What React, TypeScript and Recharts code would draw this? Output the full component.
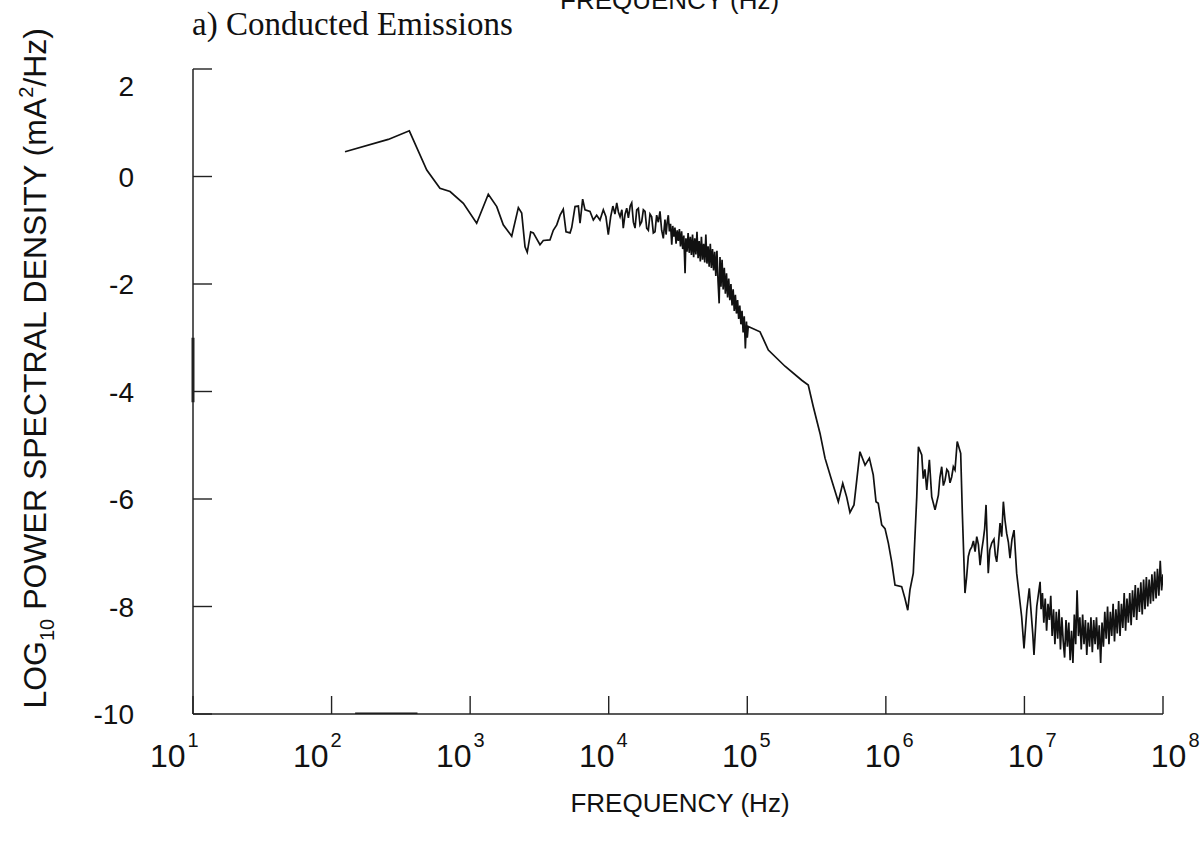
import React from "react";
import { LineChart, Line, XAxis, YAxis, ReferenceLine } from "recharts";

// log10(frequency / Hz) and log10 PSD (mA^2/Hz)
// 10^2 .. 10^4 : smooth low-frequency part
const lfLow = [
  2.097, 2.409, 2.561, 2.687, 2.782, 2.855, 2.951, 3.047, 3.131, 3.192, 3.239,
  3.3, 3.348, 3.372, 3.396, 3.412, 3.437, 3.456, 3.504, 3.528, 3.576, 3.6,
  3.625, 3.649, 3.672, 3.692, 3.721, 3.733, 3.757, 3.781, 3.793, 3.812, 3.829,
  3.865, 3.889, 3.913, 3.937, 3.961, 3.98, 3.997,
];
const psdLow = [
  0.46, 0.69, 0.85, 0.12, -0.22, -0.28, -0.5, -0.87, -0.33, -0.56, -0.9, -1.11,
  -0.58, -0.68, -1.31, -1.41, -1.03, -1.05, -1.27, -1.19, -1.18, -1.0, -0.9,
  -0.72, -0.61, -1.03, -1.05, -0.95, -0.56, -0.55, -0.87, -0.42, -0.62, -0.65,
  -0.81, -0.72, -0.81, -0.62, -0.75, -1.08,
];

// 10^4 .. 10^5 : noisy band
const lfMid = [
  4.014, 4.03, 4.045, 4.058, 4.07, 4.082, 4.095, 4.105, 4.118, 4.13, 4.142,
  4.155, 4.166, 4.178, 4.19, 4.202, 4.214, 4.226, 4.238, 4.25, 4.262, 4.274,
  4.286, 4.298, 4.31, 4.322, 4.334, 4.346, 4.358, 4.37, 4.382, 4.394, 4.406,
  4.414, 4.422, 4.43, 4.438, 4.446, 4.455, 4.462, 4.47, 4.478, 4.486, 4.494,
  4.502, 4.51, 4.518, 4.526, 4.534, 4.542, 4.551, 4.557, 4.565, 4.573, 4.581,
  4.589, 4.597, 4.605, 4.613, 4.621, 4.629, 4.637, 4.645, 4.653, 4.661, 4.669,
  4.677, 4.685, 4.693, 4.701, 4.709, 4.717, 4.725, 4.733, 4.741, 4.749, 4.757,
  4.765, 4.773, 4.781, 4.789, 4.797, 4.803, 4.81, 4.818, 4.826, 4.834, 4.842,
  4.85, 4.858, 4.866, 4.874, 4.882, 4.89, 4.898, 4.906, 4.914, 4.922, 4.93,
  4.938, 4.946, 4.954, 4.962, 4.97, 4.978, 4.986, 4.994, 5.0, 5.007,
];
const psdMid = [
  -0.75, -0.55, -0.7, -0.49, -0.66, -0.75, -0.62, -0.96, -0.7, -0.59, -0.77,
  -0.55, -0.49, -0.85, -0.96, -0.62, -0.59, -0.9, -0.84, -0.62, -0.65, -0.96,
  -1.0, -0.7, -0.75, -1.05, -1.03, -0.72, -0.85, -0.65, -1.0, -1.15, -0.8,
  -1.08, -0.85, -0.72, -1.02, -0.88, -1.27, -0.92, -1.12, -0.95, -1.25, -1.0,
  -1.2, -0.98, -1.3, -1.02, -1.35, -1.1, -1.8, -1.15, -1.4, -1.05, -1.42,
  -1.12, -1.46, -1.08, -1.5, -1.15, -1.45, -1.03, -1.52, -1.2, -1.58, -1.12,
  -1.55, -1.25, -1.6, -1.08, -1.62, -1.3, -1.68, -1.25, -1.7, -1.35, -1.75,
  -1.4, -1.85, -1.38, -1.95, -2.36, -1.5, -2.05, -1.55, -2.1, -1.7, -2.18,
  -1.8, -2.25, -1.9, -2.3, -2.0, -2.4, -2.1, -2.5, -2.2, -2.55, -2.3,
  -2.65, -2.4, -2.75, -2.5, -2.9, -2.6, -3.2, -2.7, -3.0, -2.79,
];

// 10^5 .. 10^7.1 : roll-off, resonances
const lfHigh = [
  5.092, 5.152, 5.272, 5.393, 5.44, 5.476, 5.525, 5.561, 5.609, 5.657, 5.689,
  5.717, 5.741, 5.77, 5.813, 5.85, 5.881, 5.909, 5.929, 5.945, 5.97, 5.994,
  6.018, 6.042, 6.066, 6.114, 6.138, 6.158, 6.174, 6.198, 6.223, 6.235, 6.259,
  6.27, 6.282, 6.295, 6.314, 6.331, 6.355, 6.379, 6.39, 6.403, 6.415, 6.427,
  6.44, 6.451, 6.463, 6.475, 6.487, 6.499, 6.515, 6.54, 6.552, 6.571, 6.583,
  6.595, 6.607, 6.62, 6.632, 6.644, 6.656, 6.668, 6.68, 6.692, 6.703, 6.713,
  6.723, 6.739, 6.75, 6.764, 6.78, 6.79, 6.8, 6.812, 6.824, 6.836, 6.848,
  6.86, 6.872, 6.884, 6.896, 6.91, 6.925, 6.944, 6.98, 6.997, 7.017, 7.035,
  7.06, 7.069, 7.089, 7.113,
];
const psdHigh = [
  -2.89, -3.23, -3.53, -3.79, -3.88, -4.28, -4.78, -5.24, -5.65, -6.05, -5.71,
  -5.96, -6.25, -6.11, -5.12, -5.37, -5.24, -5.55, -6.05, -6.08, -6.48, -6.55,
  -6.82, -7.17, -7.6, -7.63, -7.85, -8.07, -7.69, -7.38, -5.96, -5.03, -5.18,
  -5.62, -5.45, -5.83, -5.27, -5.96, -6.2, -5.93, -5.6, -5.4, -5.75, -5.65,
  -5.45, -5.49, -5.7, -5.59, -5.4, -5.46, -4.93, -5.15, -6.27, -7.75, -7.45,
  -7.07, -6.95, -6.89, -6.78, -6.98, -6.7, -6.85, -7.23, -6.95, -6.76, -6.55,
  -6.11, -7.38, -6.95, -6.82, -6.75, -7.05, -7.17, -6.85, -6.45, -6.7, -6.05,
  -6.4, -6.64, -6.8, -7.1, -6.75, -6.58, -7.38, -8.19, -8.78, -8.07, -7.66,
  -8.5, -8.9, -8.0, -7.54,
];

// 10^7.1 .. 10^8 : broadband noise floor
const lfTop = [
  7.12, 7.13, 7.14, 7.15, 7.16, 7.17, 7.18, 7.19, 7.2, 7.21, 7.22, 7.23, 7.24,
  7.25, 7.26, 7.27, 7.28, 7.29, 7.3, 7.31, 7.32, 7.33, 7.34, 7.35, 7.36, 7.37,
  7.38, 7.39, 7.4, 7.41, 7.42, 7.43, 7.44, 7.45, 7.46, 7.47, 7.48, 7.49, 7.5,
  7.51, 7.52, 7.53, 7.54, 7.55, 7.56, 7.57, 7.58, 7.59, 7.6, 7.61, 7.62, 7.63,
  7.64, 7.65, 7.66, 7.67, 7.68, 7.69, 7.7, 7.71, 7.72, 7.73, 7.74, 7.75, 7.76,
  7.77, 7.78, 7.79, 7.8, 7.81, 7.82, 7.83, 7.84, 7.85, 7.86, 7.87, 7.88, 7.89,
  7.9, 7.91, 7.92, 7.93, 7.94, 7.95, 7.96, 7.97, 7.98, 7.99, 8.0,
];
const psdTop = [
  -8.05, -7.75, -8.3, -7.85, -8.45, -7.95, -8.25, -7.8, -8.55, -8.05, -8.7,
  -8.1, -8.6, -8.05, -8.8, -8.2, -8.65, -8.95, -8.25, -8.75, -8.3, -9.0,
  -8.45, -9.05, -8.15, -8.7, -7.7, -8.55, -8.2, -8.8, -8.15, -8.7, -8.25,
  -8.9, -8.3, -8.75, -8.2, -8.85, -8.25, -8.7, -8.2, -8.8, -8.35, -9.05,
  -8.3, -8.75, -8.1, -8.6, -8.0, -8.7, -8.1, -8.55, -7.95, -8.65, -8.05,
  -8.5, -7.9, -8.55, -7.95, -8.4, -7.75, -8.45, -7.85, -8.3, -7.75, -8.35,
  -7.7, -8.2, -7.6, -8.25, -7.65, -8.1, -7.55, -8.15, -7.5, -8.05, -7.45,
  -8.0, -7.5, -7.95, -7.4, -7.9, -7.35, -7.85, -7.3, -7.8, -7.15, -7.7, -7.4,
];

// short trace lying on the bottom axis
const lfFloor = [2.17, 2.62];
const psdFloor = [-10, -10];

const xTicks = [1, 2, 3, 4, 5, 6, 7, 8];
const yTicks = [-10, -8, -6, -4, -2, 0, 2];

const zip = (lf: number[], v: number[]) => lf.map((f, i) => ({ lf: f, psd: v[i] }));

const spectrum = [
  ...zip(lfLow, psdLow),
  ...zip(lfMid, psdMid),
  ...zip(lfHigh, psdHigh),
  ...zip(lfTop, psdTop),
];
const floorTrace = zip(lfFloor, psdFloor);

const SANS = "'Liberation Sans', Arial, Helvetica, sans-serif";
const SERIF = "'Liberation Serif', 'Times New Roman', serif";
const INK = "#111";

function XTick(props: any) {
  const { x, y, payload } = props;
  // the printed labels drift slightly right of the ticks across the axis
  const left = x - 43 + (payload.value - 1) * 4.4;
  return (
    <g>
      <line x1={x} y1={y} x2={x} y2={y - 18} stroke="#222" strokeWidth={1.4} />
      <text x={left} y={y + 53} fontSize={32} fontFamily={SANS} fill={INK}>
        10
        <tspan dx={2} dy={-20} fontSize={20}>
          {payload.value}
        </tspan>
      </text>
    </g>
  );
}

function YTick(props: any) {
  const { x, y, payload } = props;
  const shift = payload.value === 2 ? 17 : 0;
  return (
    <g>
      <line x1={x} y1={y} x2={x + 19} y2={y} stroke="#222" strokeWidth={1.4} />
      <text
        x={x - 59}
        y={y + shift + 10}
        textAnchor="end"
        fontSize={28}
        fontFamily={SANS}
        fill={INK}
      >
        {payload.value}
      </text>
    </g>
  );
}

export default function App() {
  return (
    <div
      style={{
        position: "absolute",
        left: 0,
        top: 0,
        width: 1204,
        height: 844,
        background: "#fff",
        overflow: "hidden",
      }}
    >
      <svg
        width={1204}
        height={844}
        style={{ position: "absolute", left: 0, top: 0, pointerEvents: "none" }}
      >
        <text x={560} y={9} fontSize={26} fontFamily={SANS} fill={INK}>
          FREQUENCY (Hz)
        </text>
        <text x={192} y={35} fontSize={33} fontFamily={SERIF} fill={INK}>
          a) Conducted Emissions
        </text>
        <text
          transform="translate(46, 28) rotate(-90)"
          textAnchor="end"
          fontSize={32}
          fontFamily={SANS}
          fill={INK}
        >
          LOG
          <tspan dy={8} fontSize={20}>
            10
          </tspan>
          <tspan dy={-8}> POWER SPECTRAL DENSITY (mA</tspan>
          <tspan dy={-13} fontSize={20}>
            2
          </tspan>
          <tspan dy={13}>/Hz)</tspan>
        </text>
        <text x={680} y={812} textAnchor="middle" fontSize={26} fontFamily={SANS} fill={INK}>
          FREQUENCY (Hz)
        </text>
      </svg>
      <div style={{ position: "absolute", left: 0, top: 0 }}>
        <LineChart
          width={1204}
          height={844}
          margin={{ top: 69, right: 41, bottom: 0, left: 0 }}
        >
          <XAxis
            type="number"
            dataKey="lf"
            domain={[1, 8]}
            ticks={xTicks}
            interval={0}
            allowDataOverflow
            height={130}
            tickSize={0}
            tickMargin={0}
            tickLine={false}
            axisLine={{ stroke: "#222", strokeWidth: 1.5 }}
            tick={<XTick />}
          />
          <YAxis
            type="number"
            dataKey="psd"
            domain={[-10, 2]}
            ticks={yTicks}
            interval={0}
            allowDataOverflow
            width={193}
            tickSize={0}
            tickMargin={0}
            tickLine={false}
            axisLine={{ stroke: "#222", strokeWidth: 1.5 }}
            tick={<YTick />}
          />
          <ReferenceLine
            segment={[
              { x: 1, y: -3 },
              { x: 1, y: -4.2 },
            ]}
            stroke="#222"
            strokeWidth={3}
            ifOverflow="visible"
          />
          <Line
            data={floorTrace}
            dataKey="psd"
            type="linear"
            stroke={INK}
            strokeWidth={3}
            dot={false}
            isAnimationActive={false}
          />
          <Line
            data={spectrum}
            dataKey="psd"
            type="linear"
            stroke={INK}
            strokeWidth={1.7}
            dot={false}
            isAnimationActive={false}
          />
        </LineChart>
      </div>
    </div>
  );
}
